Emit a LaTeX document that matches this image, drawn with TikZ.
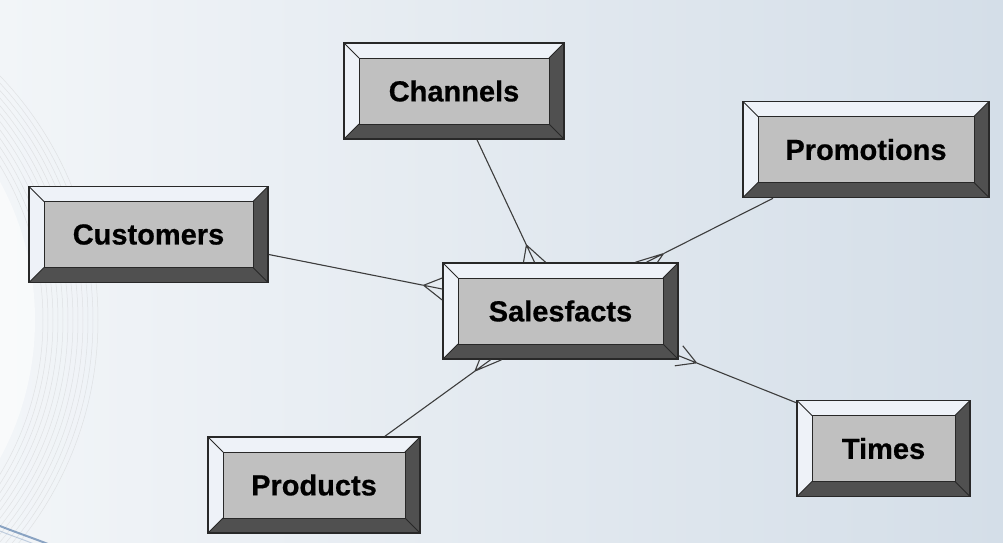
\documentclass[tikz,border=0pt]{standalone}
\usepackage{fontspec}
\usepackage{tikz}
\usetikzlibrary{calc, positioning}
\newfontfamily\tablefont{Liberation Sans}[BoldFeatures={FakeBold=0.6}]
\definecolor{facegray}{RGB}{192,192,192}
\definecolor{bevellight}{RGB}{238,242,248}
\definecolor{beveldark}{RGB}{80,80,80}
\definecolor{edgeblack}{RGB}{40,40,40}
\definecolor{bgleft}{RGB}{242,245,248}
\definecolor{bgright}{RGB}{212,222,232}
\definecolor{swoosh}{RGB}{70,110,160}

\begin{document}
\begin{tikzpicture}[x=1pt, y=-1pt,
    tablebox/.style={draw=edgeblack, line width=1.6pt, fill=bevellight, inner sep=0pt,
        minimum height=96pt, text=black,
        font=\tablefont\bfseries\fontsize{29}{32}\selectfont,
        path picture={
            \path (path picture bounding box.north west) coordinate (pnw)
                  (path picture bounding box.south east) coordinate (pse);
            \fill[beveldark] (pse) -- (pse -| pnw) -- ++(15,-15) -- ($(pse)+(-15,-15)$)
                -- ($(pnw -| pse)+(-15,15)$) -- (pnw -| pse) -- cycle;
            \filldraw[draw=edgeblack, line width=0.9pt, fill=facegray]
                ($(pnw)+(15,15)$) rectangle ($(pse)+(-15,-15)$);
            \draw[edgeblack, line width=0.8pt] (pnw) -- ++(15,15) (pse) -- ++(-15,-15)
                (pnw -| pse) -- ++(-15,15) (pse -| pnw) -- ++(15,-15);
        }},
    relline/.style={draw=edgeblack!90, line width=1.1pt}]

        % Background
        \useasboundingbox (0,0) rectangle (1003,542);
        \fill[left color=bgleft, right color=bgright] (0,0) rectangle (1003,542);
        \begin{scope}
            \clip (0,0) rectangle (1003,542);
            \fill[white, opacity=0.55] (-255,320) circle [radius=290pt];
            \foreach \r in {298,303,...,353}
                \draw[black!25, line width=0.5pt, opacity=0.35] (-255,320) circle [radius=\r pt];
            \draw[swoosh, line width=2pt, opacity=0.6] (0,526) .. controls (15,532) and (30,537) .. (48,544);
            \draw[swoosh!60, line width=1pt, opacity=0.5] (0,531) .. controls (12,536) and (22,539) .. (34,544);
        \end{scope}

        % Tables
        \node[tablebox, minimum width=235pt] (sales) at (560.5,311) {Salesfacts};
        \node[tablebox, minimum width=239pt] (customers) at (148.5,234.5) {Customers};
        \node[tablebox, minimum width=220pt] (channels) at (454,91) {Channels};
        \node[tablebox, minimum width=246pt] (promotions) at (866,149.5) {Promotions};
        \node[tablebox, minimum width=212pt] (products) at (314,485) {Products};
        \node[tablebox, minimum width=173pt] (times) at (883.5,448.5) {Times};

        % Relationship end points
        \coordinate (cu-s) at ($(customers.east)+(0,20)$);
        \coordinate (cu-e) at ($(sales.west)+(0,-22)$);
        \coordinate (ch-s) at ($(channels.south)+(23,0)$);
        \coordinate (ch-e) at ($(sales.north)+(-26,0)$);
        \coordinate (po-s) at ($(promotions.south)+(-93,0)$);
        \coordinate (po-e) at ($(sales.north)+(86,0)$);
        \coordinate (pr-s) at ($(products.north)+(71,0)$);
        \coordinate (pr-e) at ($(sales.south)+(-70,0)$);
        \coordinate (ti-s) at ($(times.north west)+(0,3)$);
        \coordinate (ti-e) at ($(sales.south east)+(0,-4)$);

        % Relationships (crow's foot at Salesfacts, prongs along the edge)
        \foreach \s/\e/\dx/\dy in {cu-s/cu-e/0/11, ch-s/ch-e/11/0, po-s/po-e/11/0, pr-s/pr-e/11/0, ti-s/ti-e/4/-10} {
            \coordinate (k) at ($(\e)!19pt!(\s)$);
            \draw[relline] (\s) -- (k);
            \draw[relline] (k) -- (\e)
                (k) -- ($(\e)+(\dx,\dy)$)
                (k) -- ($(\e)-(\dx,\dy)$);
        }
\end{tikzpicture}
\end{document}
